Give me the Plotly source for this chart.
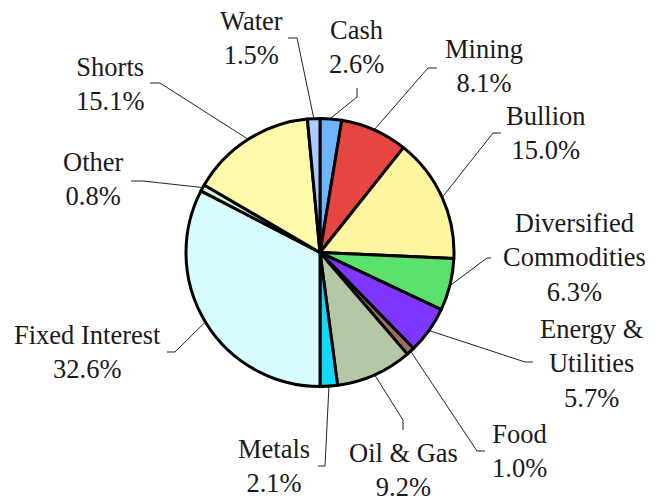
import math
import plotly.graph_objects as go

# ---- data ----
labels = ["Cash", "Mining", "Bullion", "Diversified Commodities", "Energy & Utilities",
          "Food", "Oil & Gas", "Metals", "Fixed Interest", "Other", "Shorts", "Water"]
label_text = ["Cash", "Mining", "Bullion", "Diversified<br>Commodities", "Energy &<br>Utilities",
              "Food", "Oil & Gas", "Metals", "Fixed Interest", "Other", "Shorts", "Water"]
values = [2.6, 8.1, 15.0, 6.3, 5.7, 1.0, 9.2, 2.1, 32.6, 0.8, 15.1, 1.5]
colors = ["#6DB6FF", "#E64541", "#FFF5A0", "#5AE16E", "#7D37FF", "#A06E5F",
          "#B4C8A5", "#14D7FA", "#D7FCFF", "#D4F8D4", "#FFFAAA", "#AACCFF"]

# ---- layout (window pixel positions) ----
W, H = 655, 499
OFF = 8  # page body margin
CX, CY, R = 320, 252.5, 134
# label centres (px)
label_pos = [(356, 47), (484, 66), (546, 133), (574, 258), (592, 363), (519, 451),
             (403, 470), (274, 466), (87, 352), (93, 179), (110, 84), (251, 38)]
# leader elbow and end (px)
leader_pts = [((357, 97), (357, 88)), ((428, 68), (437, 68)), ((493, 133), (501, 133)),
              ((487, 258), (491, 258)), ((525, 362), (533, 362)), ((477, 451), (485, 451)),
              ((403, 420), (403, 430)), ((325, 466), (318, 466)), ((175, 352), (167, 352)),
              ((143, 181), (131, 181)), ((160, 83), (150, 83)), ((297, 38), (288, 38))]

def px(x):
    return (x - OFF) / W

def py(y):
    return 1 - (y - OFF) / H

fig = go.Figure(go.Pie(
    labels=labels, values=values, sort=False, direction="clockwise", rotation=0,
    marker=dict(colors=colors, line=dict(color="black", width=3)),
    textinfo="none", hoverinfo="label+percent",
    domain=dict(x=[px(CX - R), px(CX + R)], y=[py(CY + R), py(CY - R)]),
    showlegend=False,
))

total = sum(values)
cum = 0.0
shapes = []
annotations = []
for i, v in enumerate(values):
    mid = (cum + v / 2) / total
    cum += v
    ang = 2 * math.pi * mid
    sx = CX + (R + 1) * math.sin(ang)
    sy = CY - (R + 1) * math.cos(ang)
    (ex, ey), (fx, fy) = leader_pts[i]
    path = f"M {px(sx)},{py(sy)} L {px(ex)},{py(ey)} L {px(fx)},{py(fy)}"
    shapes.append(dict(type="path", xref="paper", yref="paper", path=path,
                       line=dict(color="#222222", width=1)))
    lx, ly = label_pos[i]
    annotations.append(dict(
        x=px(lx), y=py(ly), xref="paper", yref="paper", showarrow=False,
        text=f"{label_text[i]}<br>{v:.1f}%", align="center",
        xanchor="center", yanchor="middle",
        font=dict(family="Liberation Serif, DejaVu Serif, serif", size=26.5, color="#1a1a1a"),
    ))

fig.update_layout(
    width=W, height=H, margin=dict(l=0, r=0, t=0, b=0),
    paper_bgcolor="white", plot_bgcolor="white",
    shapes=shapes, annotations=annotations,
)

fig.write_html("out.html")
